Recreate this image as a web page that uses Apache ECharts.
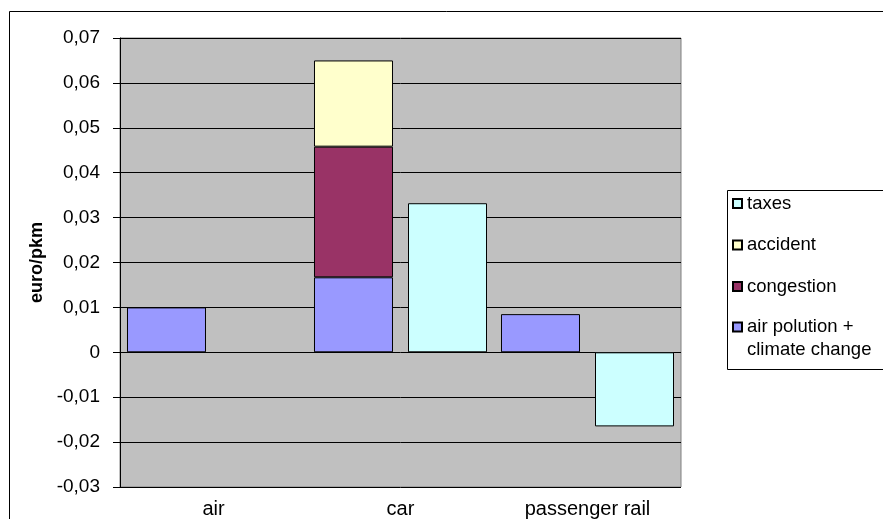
<!DOCTYPE html>
<html>
<head>
<meta charset="utf-8">
<script src="https://cdn.jsdelivr.net/npm/echarts@6/dist/echarts.min.js"></script>
<style>
  html, body { margin: 0; padding: 0; background: #fff; }
  #main { width: 883px; height: 519px; }
</style>
</head>
<body>
<div id="main"></div>
<script>
// data (euro per passenger-km)
const categories = ['air', 'car', 'passenger rail'];
const airPollution = [0.010, 0.0167, 0.0085];
const congestion = [null, 0.0291, null];
const accident = [null, 0.0192, null];
const taxes = [null, 0.0332, -0.0165];
const legendNames = ['taxes', 'accident', 'congestion', 'air polution +\nclimate change'];

const font = "'Liberation Sans', Arial, sans-serif";
const fs = 18.5;

function fmt(v) {
    if (Math.abs(v) < 1e-9) return '0';
    return v.toFixed(2).replace('.', ',');
}

function barSeries(name, data, color, stack) {
    return {
        name: name,
        type: 'bar',
        stack: stack,
        data: data,
        barWidth: 79,
        barGap: '19%',
        itemStyle: { color: color, borderColor: '#000', borderWidth: 1 },
        emphasis: { disabled: true }
    };
}

function legendBlock(names, top, formatter) {
    return {
        orient: 'vertical',
        left: 727, top: top,
        data: names,
        icon: 'rect',
        itemWidth: 9, itemHeight: 9,
        itemGap: 18.5,
        formatter: formatter,
        textStyle: { fontFamily: font, fontSize: fs, color: '#000', lineHeight: 23 },
        selectedMode: false
    };
}

const chart = echarts.init(document.getElementById('main'), null, { renderer: 'canvas' });
chart.setOption({
    animation: false,
    backgroundColor: '#fff',
    textStyle: { fontFamily: font },
    graphic: [
        // outer chart border
        { type: 'rect', shape: { x: 9.5, y: 11.5, width: 900, height: 600 }, style: { fill: 'none', stroke: '#000', lineWidth: 1 }, silent: true },
        // legend box
        { type: 'rect', shape: { x: 727.5, y: 190.5, width: 200, height: 179 }, style: { fill: '#fff', stroke: '#000', lineWidth: 1 }, silent: true }
    ],
    grid: {
        left: 120, right: 202, top: 38, bottom: 31,
        show: true, backgroundColor: '#c0c0c0', borderColor: '#808080', borderWidth: 1
    },
    legend: [
        legendBlock(legendNames.slice(0, 3), 187),
        // empty first line keeps the icon level with "air polution +"
        legendBlock([legendNames[3]], 287.5, function (name) { return '\n' + name; })
    ],
    xAxis: {
        type: 'category',
        data: categories,
        axisLine: { show: false },
        axisTick: { show: false },
        axisLabel: { margin: 12, fontSize: 20, color: '#000', fontFamily: font }
    },
    yAxis: {
        type: 'value',
        min: -0.03, max: 0.07, interval: 0.01,
        name: 'euro/pkm',
        nameLocation: 'middle',
        nameGap: 73,
        nameTextStyle: { fontSize: 18, fontWeight: 'bold', color: '#000', fontFamily: font },
        axisLine: { show: true, lineStyle: { color: '#000', width: 1 } },
        axisTick: { show: true, length: 7, lineStyle: { color: '#000' } },
        axisLabel: { margin: 20, fontSize: 19, color: '#000', fontFamily: font, formatter: fmt },
        splitLine: { show: true, lineStyle: { color: '#000', width: 1 } }
    },
    series: [
        barSeries(legendNames[3], airPollution, '#9999ff', 'ext'),
        barSeries('congestion', congestion, '#993366', 'ext'),
        barSeries('accident', accident, '#ffffcc', 'ext'),
        barSeries('taxes', taxes, '#ccffff', 'tax')
    ]
});
</script>
</body>
</html>
